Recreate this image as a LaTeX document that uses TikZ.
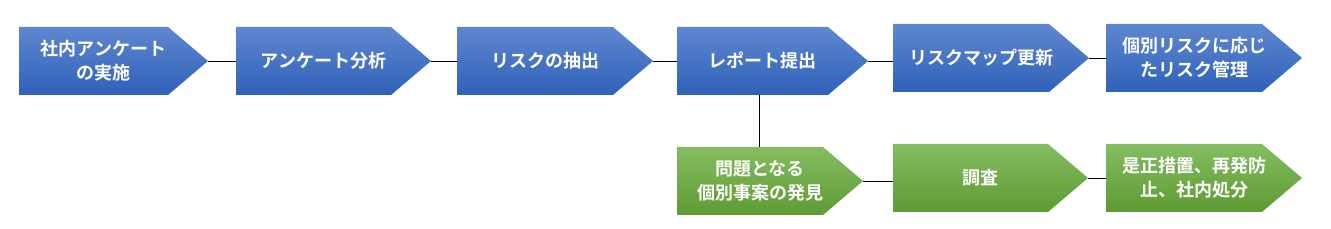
\documentclass[tikz,border=0pt]{standalone}
\usepackage{fontspec}
\newfontfamily\jpb{Noto Sans CJK JP Bold}
\definecolor{bluetop}{HTML}{5F87D0}
\definecolor{bluebot}{HTML}{2F61B9}
\definecolor{greentop}{HTML}{85BC62}
\definecolor{greenbot}{HTML}{5D9B32}
\tikzset{
  bluefill/.style={top color=bluetop,bottom color=bluebot},
  greenfill/.style={top color=greentop,bottom color=greenbot},
  lbl/.style={text=white,font=\jpb\fontsize{18}{24}\selectfont,align=center,inner sep=0pt},
  conn/.style={draw=black,line width=0.9pt}
}
% #1 name, #2 left x, #3 top y, #4 rect width, #5 fill style, #6 text
\newcommand\chevbox[6]{%
  \shade[#5] (#2,#3) -- ++(#4,0) -- ++(40,-34) -- ++(-40,-34) -- ++(-#4,0) -- cycle;
  \node[lbl] (#1) at ({#2+#4/2+10},{#3-34}) {#6};
  \coordinate (#1-in) at (#2,{#3-34});
  \coordinate (#1-tip) at ({#2+#4+40},{#3-34});
  \coordinate (#1-top) at (#2,#3);
  \coordinate (#1-bot) at (#2,{#3-68});
}
\begin{document}
\begin{tikzpicture}[x=1pt,y=1pt]
\useasboundingbox (0,0) rectangle (1331,229);
% top row (y measured from bottom: 229 - image y)
\chevbox{a}{19}{202}{149}{bluefill}{社内アンケート\\の実施}
\chevbox{b}{236}{202}{155}{bluefill}{アンケート分析}
\chevbox{c}{457}{202}{156}{bluefill}{リスクの抽出}
\chevbox{d}{677}{202}{151}{bluefill}{レポート提出}
\chevbox{e}{893}{205}{156}{bluefill}{リスクマップ更新}
\chevbox{f}{1106}{205}{156}{bluefill}{個別リスクに応じ\\たリスク管理}
% bottom row
\chevbox{g}{677}{82}{146}{greenfill}{問題となる\\個別事案の発見}
\chevbox{h}{893}{85}{155}{greenfill}{調査}
\chevbox{i}{1106}{85}{156}{greenfill}{是正措置、再発防\\止、社内処分}
% connectors
\coordinate (dv) at (759,134);
\coordinate (gv) at (759,82);
\draw[conn] (a-tip) -- (a-tip -| b-in);
\draw[conn] (b-tip) -- (b-tip -| c-in);
\draw[conn] (c-tip) -- (c-tip -| d-in);
\draw[conn] (d-tip) -- (d-tip -| e-in);
\draw[conn] (e-tip) -- (e-tip -| f-in);
\draw[conn] (dv) -- (gv);
\draw[conn] (g-tip) -- (g-tip -| h-in);
\draw[conn] (h-tip) -- (h-tip -| i-in);
\end{tikzpicture}
\end{document}
